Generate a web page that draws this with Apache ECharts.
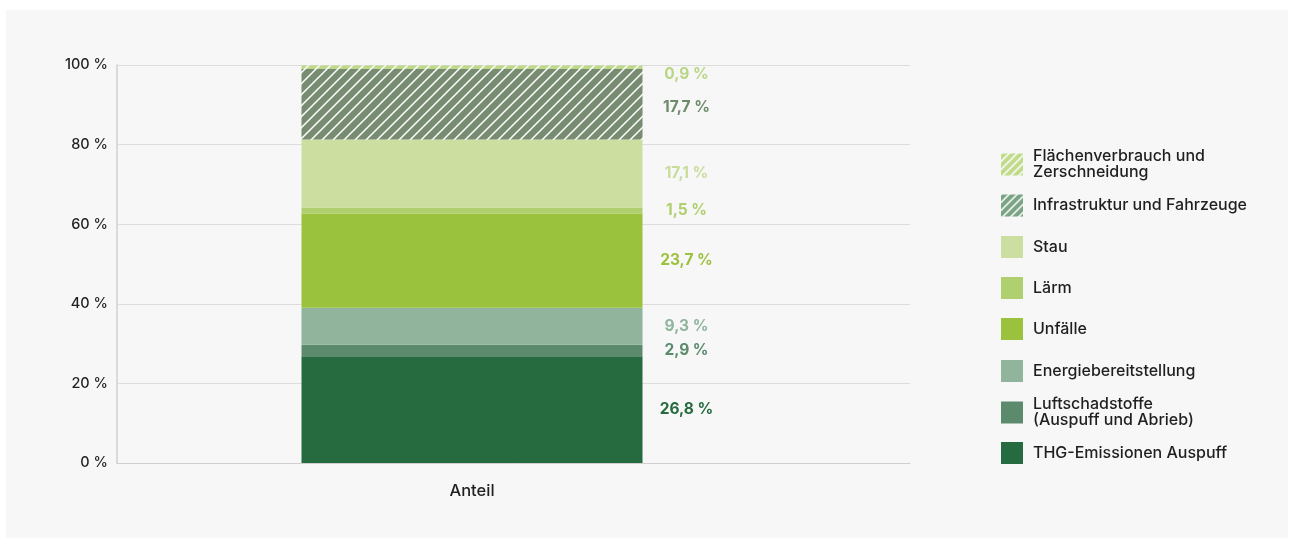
<!DOCTYPE html>
<html lang="de">
<head>
<meta charset="utf-8">
<title>Anteil externer Kosten</title>
<script src="https://cdn.jsdelivr.net/npm/echarts@6/dist/echarts.min.js"></script>
<style>
  html, body { margin: 0; padding: 0; background: #ffffff; }
  #panel { position: absolute; left: 6px; top: 10px; width: 1282px; height: 528px; background: #f7f7f7; }
  #chart { position: absolute; left: 0; top: 0; width: 1289px; height: 539px; }
</style>
</head>
<body>
<div id="panel"></div>
<div id="chart"></div>
<script>
// Stack order from the bottom of the bar upwards
const categories = ['Anteil'];
const seriesNames = [
  'THG-Emissionen Auspuff',
  'Luftschadstoffe\n(Auspuff und Abrieb)',
  'Energiebereitstellung',
  'Unfälle',
  'Lärm',
  'Stau',
  'Infrastruktur und Fahrzeuge',
  'Flächenverbrauch und\nZerschneidung'
];
const shares = [26.8, 2.9, 9.3, 23.7, 1.5, 17.1, 17.7, 0.9];
const yTicks = [0, 20, 40, 60, 80, 100];

const FONT = 'Inter, "Noto Sans", sans-serif';
const barColors = ['#266b3f', '#5b8b6c', '#90b49c', '#9bc23d', '#b0cf6e', '#cddfa0', '#778c70', '#bed98a'];
const labelColors = ['#266b3f', '#5b8b6c', '#90b49c', '#9bc23d', '#b0cf6e', '#c8dd9c', '#6d8a6a', '#b9d687'];
const legendColors = ['#266b3f', '#5b8b6c', '#90b49c', '#9bc23d', '#b0cf6e', '#cddfa0', '#7aa385', '#c1da8c'];
const hatched = [false, false, false, false, false, false, true, true];
// small nudges so the two top labels do not collide
const labelOffsets = [[0, 0], [0, 0], [0, 0], [0, 0], [0, 0], [0, 0], [0, 3], [0, 7]];

// Diagonal white stripes on a coloured tile, used as a repeating fill
function hatchFill(base, size, width) {
  const c = document.createElement('canvas');
  c.width = c.height = size;
  const g = c.getContext('2d');
  g.fillStyle = base;
  g.fillRect(0, 0, size, size);
  g.strokeStyle = '#ffffff';
  g.lineWidth = width;
  g.beginPath();
  g.moveTo(0, size); g.lineTo(size, 0);
  g.moveTo(-2, 2); g.lineTo(2, -2);
  g.moveTo(size - 2, size + 2); g.lineTo(size + 2, size - 2);
  g.stroke();
  return { image: c, repeat: 'repeat' };
}

function fillFor(i, palette, size) {
  return hatched[i] ? hatchFill(palette[i], size, 1.5) : palette[i];
}

function formatShare(v) {
  return v.toFixed(1).replace('.', ',') + ' %';
}

const series = seriesNames.map((name, i) => ({
  name: name,
  type: 'bar',
  stack: 'total',
  xAxisIndex: 1,
  yAxisIndex: 1,
  barWidth: 341,
  data: [shares[i]],
  itemStyle: { color: fillFor(i, barColors, 11) },
  emphasis: { disabled: true },
  label: {
    show: true,
    position: 'right',
    distance: 44,
    align: 'center',
    offset: labelOffsets[i],
    formatter: (p) => formatShare(p.value),
    color: labelColors[i],
    fontFamily: FONT,
    fontSize: 15.5,
    fontWeight: 'bold'
  }
}));

// Legend rows listed top to bottom (reverse of the stack)
const legendCenters = [164.5, 205.5, 247, 288, 329, 371, 412.5, 453];
const legends = [];
for (let k = 0; k < seriesNames.length; k++) {
  const i = seriesNames.length - 1 - k;
  const twoLines = seriesNames[i].indexOf('\n') >= 0;
  const h = twoLines ? 32 : 22;
  legends.push({
    orient: 'vertical',
    left: 1001,
    top: legendCenters[k] - h / 2,
    padding: 0,
    itemWidth: 22,
    itemHeight: 22,
    itemGap: 10,
    icon: 'rect',
    selectedMode: false,
    data: [{ name: seriesNames[i], itemStyle: { color: fillFor(i, legendColors, 8) } }],
    textStyle: { fontFamily: FONT, fontSize: 16, fontWeight: 500, color: '#1f1f1f', lineHeight: 16, padding: [0, 0, 0, 5] }
  });
}

const option = {
  backgroundColor: 'transparent',
  animation: false,
  legend: legends,
  grid: [
    { left: 117, top: 65, width: 793, height: 398, containLabel: false },
    { left: 117, top: 65, width: 710, height: 398, containLabel: false }
  ],
  xAxis: [
    {
      gridIndex: 0,
      type: 'category',
      data: categories,
      axisLine: { show: true, lineStyle: { color: '#cfcfcf', width: 1 } },
      axisTick: { show: false },
      axisLabel: { show: false }
    },
    {
      gridIndex: 1,
      type: 'category',
      data: categories,
      axisLine: { show: false },
      axisTick: { show: false },
      axisLabel: { show: true, margin: 20, color: '#1f1f1f', fontFamily: FONT, fontSize: 16.5, fontWeight: 500 }
    }
  ],
  yAxis: [
    {
      gridIndex: 0,
      type: 'value',
      min: yTicks[0],
      max: yTicks[yTicks.length - 1],
      interval: yTicks[1] - yTicks[0],
      axisLine: { show: true, lineStyle: { color: '#dadada', width: 2 } },
      axisTick: { show: false },
      splitLine: { show: true, lineStyle: { color: '#dcdcdc', width: 1 } },
      axisLabel: { margin: 9, color: '#1f1f1f', fontFamily: FONT, fontSize: 14.5, fontWeight: 500, formatter: (v) => v + ' %' }
    },
    {
      gridIndex: 1,
      type: 'value',
      min: yTicks[0],
      max: yTicks[yTicks.length - 1],
      show: false
    }
  ],
  series: series
};

const chart = echarts.init(document.getElementById('chart'), null, { renderer: 'canvas' });
chart.setOption(option);
</script>
</body>
</html>
